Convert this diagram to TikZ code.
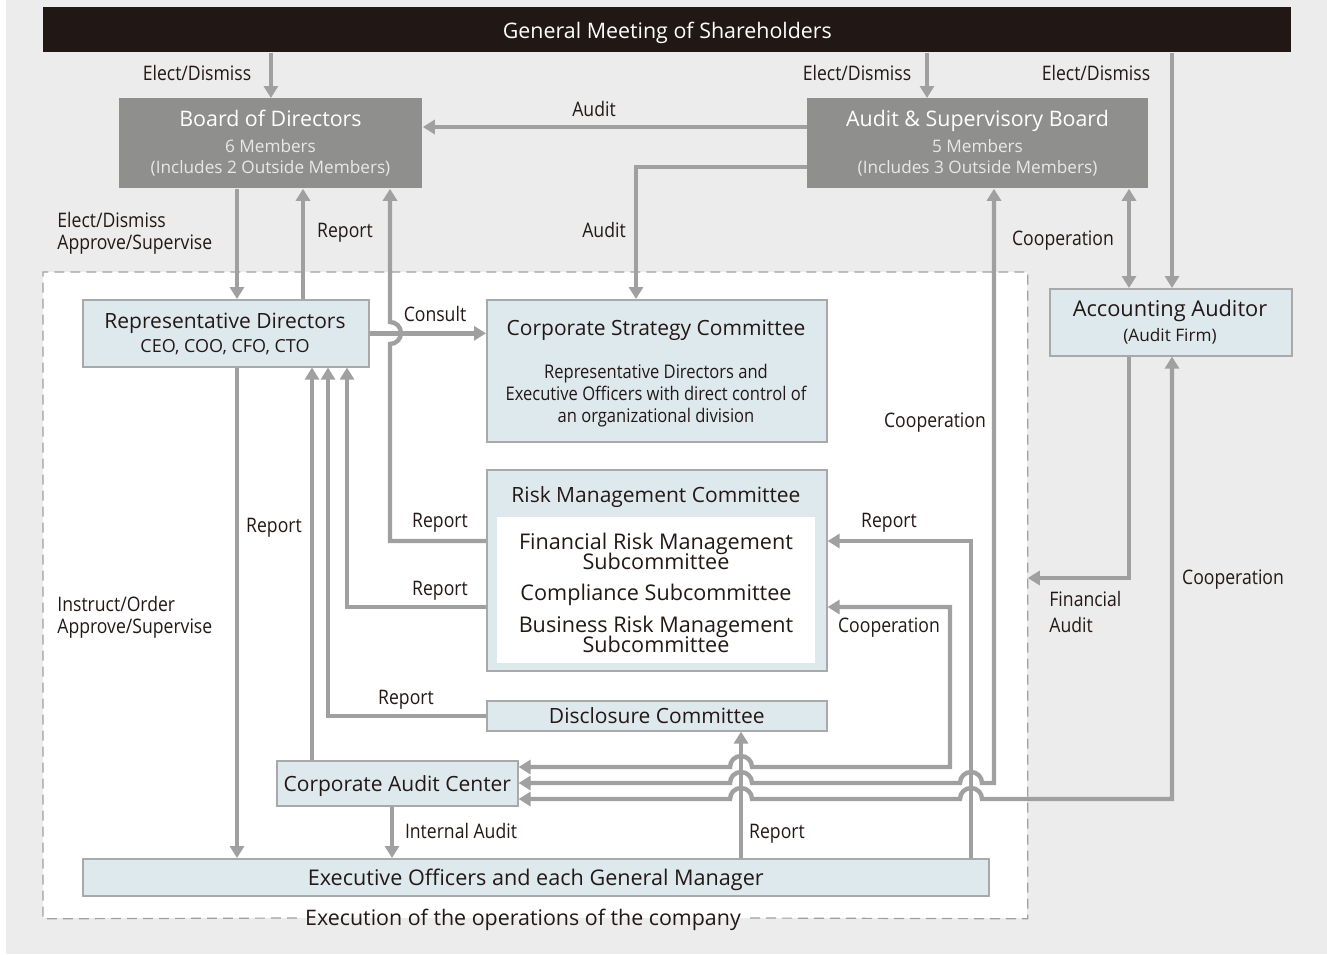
\documentclass[tikz,border=0pt]{standalone}
\usepackage{fontspec}
\setmainfont{Open Sans}
\newfontfamily\condsans[FakeStretch=0.88]{Open Sans}
\usepackage{tikz}
\usetikzlibrary{arrows.meta, positioning}
\definecolor{panelBg}{RGB}{235,236,235}
\definecolor{barBlack}{RGB}{33,24,21}
\definecolor{boardGray}{RGB}{143,144,142}
\definecolor{boardSub}{RGB}{232,232,232}
\definecolor{unitFill}{RGB}{222,233,238}
\definecolor{unitEdge}{RGB}{168,170,170}
\definecolor{linkGray}{RGB}{160,160,160}
\definecolor{ink}{RGB}{35,24,21}
% tight two-line subcommittee names
\newcommand\subcomfont{\fontsize{10.8}{10}\selectfont\setlength{\lineskiplimit}{-10pt}}

\begin{document}
\begin{tikzpicture}[x=0.5pt,y=-0.5pt,
  conn/.style={draw=linkGray,line width=2.2pt,-{Triangle[length=6pt,width=7pt]}},
  dconn/.style={conn,{Triangle[length=6pt,width=7pt]}-{Triangle[length=6pt,width=7pt]}},
  board/.style={fill=boardGray,anchor=north west,inner sep=0pt},
  unit/.style={fill=unitFill,draw=unitEdge,line width=0.8pt,anchor=north west,
               inner sep=0pt,text=ink,text height=8pt,text depth=0pt,
               font=\fontsize{10.5}{12}\selectfont},
  btitle/.style={text=white,inner sep=0pt,text height=8.2pt,text depth=0pt,
                 font=\fontsize{10.7}{12}\selectfont},
  bsub/.style={text=boardSub,inner sep=0pt,text height=6.5pt,text depth=0pt,
               font=\fontsize{8.6}{10}\selectfont},
  utitle/.style={text=ink,inner sep=0pt,text height=8pt,text depth=0pt,
                 font=\fontsize{10.5}{12}\selectfont},
  usub/.style={text=ink,inner sep=0pt,text height=6.8pt,text depth=0pt,
               font=\fontsize{9}{10}\selectfont},
  subcom/.style={text=ink,inner sep=0pt,align=center,text depth=0pt,font=\subcomfont},
  lbl/.style={text=ink,inner sep=0pt,text height=7.6pt,text depth=0pt,
              font=\condsans\fontsize{10}{11}\selectfont},
  mlbl/.style={lbl,text height=,text depth=,anchor=west,align=left},
]
  \useasboundingbox (0,0) rectangle (1327,954);
  \fill[white] (0,0) rectangle (1327,954);
  \fill[panelBg] (6,0) rectangle (1327,954);

  % execution area
  \node[fill=white,anchor=north west,inner sep=0pt,minimum width=492pt,minimum height=323pt]
    (exec) at (43,272) {};
  \node[lbl,font=\fontsize{10.7}{12}\selectfont,inner xsep=4pt] (cap) at (523,918)
    {Execution of the operations of the company};
  \draw[linkGray,line width=0.6pt,dash pattern=on 5pt off 3pt]
    (cap.west) -- (exec.south west) -- (exec.north west) -- (exec.north east)
    -- (exec.south east) -- (cap.east);

  % boards
  \node[fill=barBlack,anchor=north west,inner sep=0pt,minimum width=624pt,minimum height=22.5pt,
        text=white,text height=8.2pt,text depth=0pt,font=\fontsize{10.7}{12}\selectfont]
    (gms) at (43,7) {General Meeting of Shareholders};
  \node[board,minimum width=151.5pt,minimum height=45pt] (bod) at (119,98) {};
  \node[btitle] (bodT) at (270.5,118) {Board of Directors};
  \node[bsub] (bodA) at (270.5,146) {6 Members};
  \node[bsub] (bodB) at (270.5,167) {(Includes 2 Outside Members)};
  \node[board,minimum width=170.5pt,minimum height=45pt] (asb) at (807,98) {};
  \node[btitle] (asbT) at (977.5,118) {Audit \& Supervisory Board};
  \node[bsub] (asbA) at (977.5,146) {5 Members};
  \node[bsub] (asbB) at (977.5,167) {(Includes 3 Outside Members)};

  % units
  \node[unit,minimum width=143pt,minimum height=33.5pt] (rd) at (82,299) {};
  \node[utitle] (rdT) at (225,320) {Representative Directors};
  \node[usub] (rdS) at (225,346) {CEO, COO, CFO, CTO};

  \node[unit,minimum width=170pt,minimum height=71pt] (csc) at (486,299) {};
  \node[utitle] (cscT) at (656,327) {Corporate Strategy Committee};
  \node[mlbl,anchor=center,align=center,font=\condsans\fontsize{9.4}{11}\selectfont]
    (cscB) at (656,395.5)
    {Representative Directors and\\Executive Officers with direct control of\\an organizational division};

  \node[unit,minimum width=170pt,minimum height=100.5pt] (rmc) at (486,469) {};
  \node[utitle] (rmcT) at (656,494) {Risk Management Committee};
  \node[fill=white,anchor=north west,inner sep=0pt,minimum width=159pt,minimum height=73pt]
    (rmcIn) at (497,517) {};
  \node[subcom] (frm) at (656,551) {Financial Risk Management\\Subcommittee};
  \node[subcom] (cmp) at (656,592) {Compliance Subcommittee};
  \node[subcom] (brm) at (656,634) {Business Risk Management\\Subcommittee};

  \node[unit,minimum width=170pt,minimum height=15pt] (dc) at (486,700) {Disclosure Committee};
  \node[unit,minimum width=120.5pt,minimum height=22.5pt] (cac) at (276,760) {Corporate Audit Center};
  \node[unit,minimum width=453pt,minimum height=18.5pt,font=\fontsize{10.8}{12}\selectfont]
    (eo) at (82,858) {Executive Officers and each General Manager};

  \node[unit,minimum width=121pt,minimum height=33.5pt] (aa) at (1049,288) {};
  \node[utitle,font=\fontsize{10.9}{12}\selectfont] (aaT) at (1170,308) {Accounting Auditor};
  \node[usub,text height=6.5pt,font=\fontsize{8.6}{10}\selectfont] (aaS) at (1170,335) {(Audit Firm)};

  % connectors
  \draw[conn] (gms.south -| bod.north) -- (bod.north);
  \draw[conn] (gms.south -| 927,0) -- (asb.north -| 927,0);
  \draw[conn] (gms.south -| 1172,0) -- (aa.north -| 1172,0);
  \draw[conn] (asb.west |- 0,127) -- (bod.east |- 0,127);
  \draw[conn] (asb.west |- 0,167) -| (csc.north -| 636,0);
  \draw[conn] (bod.south -| 237,0) -- (rd.north -| 237,0);
  \draw[conn] (rd.north -| 303,0) -- (bod.south -| 303,0);
  \draw[conn] (rd.east) -- (rd.east -| csc.west);
  \draw[conn] (rmc.west |- 0,541) -- (390,541) -- (390,344)
    arc[start angle=-90,end angle=90,radius=5.5pt] -- (bod.south -| 390,0);
  \draw[conn] (rmc.west |- 0,607) -| (rd.south -| 347,0);
  \draw[conn] (dc.west) -| (rd.south -| 328,0);
  \draw[conn] (cac.north -| 312,0) -- (rd.south -| 312,0);
  \draw[conn] (rd.south -| 237,0) -- (eo.north -| 237,0);
  \draw[conn] (cac.south -| 392,0) -- (eo.north -| 392,0);
  \draw[conn] (eo.north -| 741,0) -- (dc.south -| 741,0);
  \draw[conn] (eo.north -| 971,0) -- (971,541) -- (rmc.east |- 0,541);
  \draw[dconn] (rmc.east |- 0,607) -- (950,607) -- (950,767) -- (752,767)
    arc[start angle=0,end angle=180,radius=5.5pt] -- (cac.east |- 0,767);
  \draw[dconn] (asb.south -| 994,0) -- (994,783) -- (982,783)
    arc[start angle=0,end angle=180,radius=5.5pt] -- (752,783)
    arc[start angle=0,end angle=180,radius=5.5pt] -- (cac.east |- 0,783);
  \draw[dconn] (aa.south -| 1172,0) -- (1172,799) -- (982,799)
    arc[start angle=0,end angle=180,radius=5.5pt] -- (752,799)
    arc[start angle=0,end angle=180,radius=5.5pt] -- (cac.east |- 0,799);
  \draw[dconn] (asb.south -| 1129,0) -- (aa.north -| 1129,0);
  \coordinate (faEnd) at (exec.east |- 0,578);
  \draw[conn] (aa.south -| 1129,0) |- (faEnd);

  % labels
  \foreach \n/\x/\y/\t in {edBod/197/73/{Elect/Dismiss}, edAsb/857/73/{Elect/Dismiss},
      edAa/1096/73/{Elect/Dismiss}, auBod/594/109/Audit, auCsc/604/230/Audit,
      rpBod/345/230/Report, cons/435/314/Consult, rpRmcA/440/520/Report,
      rpRmcB/440/588/Report, rpDc/406/697/Report, rpCac/274/525/Report,
      inAu/461/831/{Internal Audit}, rpEo/777/831/Report, rpRmcE/889/520/Report,
      coRmc/889/625/Cooperation, coAsb/935/420/Cooperation,
      coAa/1063/238/Cooperation, coCac/1233/577/Cooperation}
    \node[lbl] (\n) at (\x,\y) {\t};
  \node[mlbl] (esBod) at (57,233) {Elect/Dismiss\\Approve/Supervise};
  \node[mlbl] (ioRd) at (57,617) {Instruct/Order\\Approve/Supervise};
  \node[mlbl,font=\condsans\fontsize{10}{13}\selectfont] (faud) at (1049,612) {Financial\\Audit};
\end{tikzpicture}
\end{document}
